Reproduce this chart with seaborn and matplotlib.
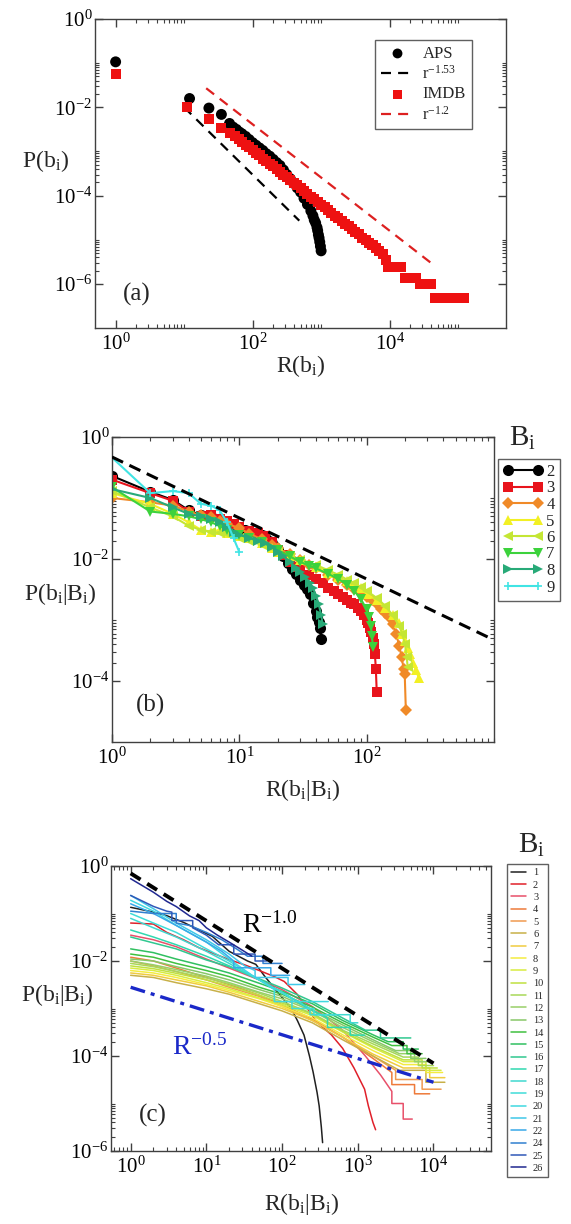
import matplotlib
matplotlib.use("Agg")
import matplotlib.pyplot as plt
import seaborn as sns
from matplotlib.ticker import FixedLocator, FixedFormatter, NullFormatter

# ---------------- panel (a) data ----------------
aps_rank = [1, 12, 23, 35, 46, 52, 58, 64, 70, 79, 89, 100, 112, 126, 141, 158, 178, 200, 224, 251,
            282, 316, 355, 398, 447, 501, 562, 631, 708, 759, 794, 832, 871, 891, 912, 933, 955, 977, 1000]
aps_p = [0.107, 0.0158, 0.0096, 0.0069, 0.0043, 0.00355, 0.00316, 0.00275, 0.00251, 0.00219,
         0.00186, 0.00158, 0.00138, 0.0012, 0.00105, 0.00089, 0.00078, 0.00066, 0.00056, 0.00048,
         0.00038, 0.0003, 0.00024, 0.00019, 0.00015, 0.00012, 8.7e-5, 6.3e-5, 4.5e-5, 3.5e-5,
         2.8e-5, 2.4e-5, 1.9e-5, 1.6e-5, 1.3e-5, 1.1e-5, 8.9e-6, 7.1e-6, 5.6e-6]
imdb_rank = [1, 11, 23, 35, 47, 56, 63, 71, 79, 89, 100, 112, 126, 141, 158, 178, 200, 224, 251, 282,
             316, 355, 398, 447, 501, 562, 631, 708, 794, 891, 1000, 1122, 1259, 1413, 1585, 1778, 1995,
             2239, 2512, 2818, 3162, 3548, 3981, 4467, 5012, 5623, 6310, 7079, 7943, 8710, 9550, 10700,
             12000, 13500, 14800, 17000, 19100, 21400, 24000, 28200, 31600, 35500, 39800, 45700, 52500,
             60300, 69200, 79400, 91200, 104700, 123000]
imdb_p = [0.058, 0.0102, 0.0053, 0.0034, 0.0026, 0.00219, 0.00191, 0.00162, 0.00141, 0.00123,
          0.00107, 0.00093, 0.00081, 0.00069, 0.0006, 0.00052, 0.00046, 0.0004, 0.00035, 0.000295,
          0.000257, 0.000224, 0.000195, 0.00017, 0.000148, 0.000126, 0.00011, 9.5e-5, 8.3e-5, 7.2e-5,
          6.2e-5, 5.4e-5, 4.7e-5, 4.1e-5, 3.5e-5, 3.1e-5, 2.6e-5, 2.3e-5, 2.0e-5, 1.74e-5,
          1.51e-5, 1.32e-5, 1.12e-5, 9.8e-6, 8.5e-6, 7.4e-6, 6.4e-6, 5.6e-6, 4.8e-6, 3.5e-6,
          2.35e-6, 2.35e-6, 2.35e-6, 2.35e-6, 2.35e-6, 1.38e-6, 1.38e-6, 1.38e-6, 1.38e-6,
          1.0e-6, 1.0e-6, 1.0e-6, 1.0e-6, 4.9e-7, 4.9e-7, 4.9e-7, 4.9e-7, 4.9e-7, 4.9e-7, 4.9e-7, 4.9e-7]
fit_aps_r = [10, 480]
fit_aps_p = [1.0e-2, 2.7e-5]
fit_imdb_r = [21, 4.0e4]
fit_imdb_p = [2.7e-2, 3.0e-6]

# ---------------- panel (b) data ----------------
b_labels = ["2", "3", "4", "5", "6", "7", "8", "9"]
b_r2 = [1, 2, 3, 4, 5, 6, 7, 8, 9, 10, 11, 12, 13, 14, 15, 16, 17, 18, 19, 20, 22, 24, 26, 28, 30, 32, 34, 36, 38, 40, 41, 42, 43, 44]
b_p2 = [0.23, 0.126, 0.093, 0.063, 0.052, 0.050, 0.044, 0.041, 0.036, 0.032, 0.030, 0.028, 0.027, 0.026, 0.025, 0.023, 0.020,
        0.018, 0.016, 0.014, 0.011, 0.0085, 0.0068, 0.0056, 0.0046, 0.0038, 0.0032, 0.0027, 0.0019, 0.0014, 0.0011, 0.00093, 0.00074, 0.00049]
b_r3 = [1, 2, 3, 4, 5, 6, 7, 8, 9, 10, 12, 14, 16, 18, 20, 22, 25, 28, 30, 35, 40, 45, 50, 55, 60, 65, 70, 75, 80, 85, 90, 95,
        100, 103, 106, 109, 112, 114, 116, 118, 120]
b_p3 = [0.2, 0.12, 0.09, 0.06, 0.05, 0.052, 0.045, 0.042, 0.038, 0.033, 0.029, 0.027, 0.024, 0.019, 0.014, 0.0115, 0.009, 0.0075,
        0.0068, 0.0055, 0.0047, 0.004, 0.0034, 0.003, 0.0027, 0.0024, 0.0021, 0.0019, 0.0018, 0.0016, 0.0014, 0.0012, 0.001,
        0.00088, 0.00075, 0.00063, 0.0005, 0.0004, 0.00028, 0.00016, 0.000066]
b_r4 = [1, 2, 3, 4, 5, 6, 7, 8, 10, 12, 15, 18, 20, 25, 30, 35, 40, 50, 60, 70, 80, 90, 100, 110, 120, 130, 140, 150, 160, 170,
        180, 188, 195, 199, 203]
b_p4 = [0.1, 0.085, 0.075, 0.06, 0.052, 0.048, 0.042, 0.038, 0.032, 0.026, 0.021, 0.017, 0.015, 0.012, 0.0095, 0.008, 0.007,
        0.0055, 0.0045, 0.0038, 0.0032, 0.0028, 0.0024, 0.0021, 0.0018, 0.0015, 0.0013, 0.0011, 0.00085, 0.0006, 0.00038,
        0.00025, 0.00016, 0.00013, 0.000034]
b_r5 = [1, 2, 3, 4, 5, 6, 7, 8, 10, 12, 15, 18, 20, 25, 30, 40, 50, 60, 70, 80, 90, 100, 120, 140, 160, 180, 190, 200, 210,
        217, 230, 245, 257]
b_p5 = [0.12, 0.08, 0.055, 0.04, 0.03, 0.028, 0.03, 0.027, 0.024, 0.022, 0.018, 0.015, 0.013, 0.011, 0.0095, 0.0075, 0.006,
        0.005, 0.0043, 0.0037, 0.0033, 0.0027, 0.0021, 0.0016, 0.0012, 0.00088, 0.0006, 0.00045, 0.00035, 0.00028, 0.0002,
        0.00015, 0.00011]
b_r6 = [1, 2, 3, 4, 5, 6, 7, 8, 10, 12, 15, 20, 25, 30, 40, 50, 60, 70, 80, 90, 100, 120, 140, 160, 180, 190, 200, 206, 210]
b_p6 = [0.13, 0.07, 0.05, 0.035, 0.03, 0.028, 0.027, 0.026, 0.022, 0.02, 0.017, 0.013, 0.011, 0.0098, 0.008, 0.0065, 0.0055,
        0.0046, 0.004, 0.0035, 0.003, 0.0023, 0.0017, 0.0012, 0.0008, 0.0006, 0.0004, 0.00025, 0.00017]
b_r7 = [1, 2, 3, 4, 5, 6, 7, 8, 10, 12, 15, 20, 25, 30, 35, 40, 50, 60, 70, 80, 90, 100, 105, 108, 110, 112]
b_p7 = [0.15, 0.06, 0.055, 0.05, 0.045, 0.04, 0.035, 0.03, 0.025, 0.022, 0.019, 0.014, 0.011, 0.009, 0.0078, 0.007, 0.0057,
        0.0047, 0.0038, 0.003, 0.0022, 0.0015, 0.0011, 0.0008, 0.00055, 0.00036]
b_r8 = [1, 2, 3, 4, 5, 6, 7, 8, 9, 10, 12, 14, 16, 18, 20, 22, 25, 28, 30, 33, 36, 38, 40, 42, 44, 45]
b_p8 = [0.14, 0.1, 0.07, 0.055, 0.05, 0.045, 0.04, 0.033, 0.028, 0.025, 0.022, 0.02, 0.018, 0.016, 0.013, 0.011, 0.009,
        0.0072, 0.0062, 0.005, 0.004, 0.0033, 0.0025, 0.0018, 0.0012, 0.00085]
b_r9 = [1, 2, 3, 4, 5, 6, 7, 8, 9, 10]
b_p9 = [0.46, 0.12, 0.13, 0.12, 0.08, 0.075, 0.063, 0.04, 0.022, 0.013]
b_fit_r = [1, 1000]
b_fit_p = [0.47, 4.7e-4]

# ---------------- panel (c) data ----------------
c_labels = ["1", "2", "3", "4", "5", "6", "7", "8", "9", "10", "11", "12", "13", "14", "15", "16", "17", "18",
            "19", "20", "21", "22", "24", "25", "26"]
c_r1 = [1, 2, 3, 5, 8, 12, 20, 35, 45, 60, 100, 132, 160, 195, 230, 257, 290, 309, 330, 343]
c_p1 = [0.135, 0.107, 0.09, 0.065, 0.045, 0.033, 0.016, 0.01, 0.0085, 0.0046, 0.0017, 0.001, 0.00055, 0.000275, 0.0001,
        4.6e-5, 1.7e-5, 8.9e-6, 3.2e-6, 1.5e-6]
c_r2 = [1, 2, 3, 5, 8, 13, 20, 32, 50, 79, 107, 158, 288, 447, 631, 891, 1230, 1380, 1585, 1720]
c_p2 = [0.063, 0.06, 0.04, 0.028, 0.019, 0.014, 0.0107, 0.0083, 0.0063, 0.0047, 0.0037, 0.002, 5.2e-4, 2.8e-4, 1.45e-4,
        5.6e-5, 2.0e-5, 8.9e-6, 4.0e-6, 2.8e-6]
c_r3 = [1, 2, 4, 10, 20, 50, 100, 251, 631, 1259, 1995, 2818, 2818, 3981, 3981, 5248]
c_p3 = [3.5e-2, 2.8e-2, 2.0e-2, 1.1e-2, 7.1e-3, 4.0e-3, 2.5e-3, 1.1e-3, 3.5e-4, 1.0e-4, 4.0e-5, 1.8e-5, 1.0e-5, 1.0e-5,
        4.7e-6, 4.7e-6]
c_r4 = [1, 2, 4, 10, 20, 50, 100, 251, 631, 1585, 2818, 2818, 5623, 5623, 8913]
c_p4 = [1.2e-2, 1.0e-2, 7.1e-3, 4.5e-3, 3.2e-3, 1.9e-3, 1.2e-3, 6.0e-4, 2.5e-4, 8.9e-5, 4.5e-5, 2.5e-5, 2.5e-5, 1.6e-5, 1.6e-5]
c_r5 = [1, 2, 4, 10, 20, 50, 100, 251, 631, 1585, 3162, 3162, 7079, 7079, 12590]
c_p5 = [1.0e-2, 7.9e-3, 6.0e-3, 4.0e-3, 2.8e-3, 1.8e-3, 1.1e-3, 5.6e-4, 2.5e-4, 1.0e-4, 5.0e-5, 3.2e-5, 3.2e-5, 2.0e-5, 2.0e-5]
c_r6 = [1, 2, 4, 10, 20, 50, 100, 251, 631, 1585, 3548, 7943, 7943, 14130]
c_p6 = [5.0e-3, 4.5e-3, 3.5e-3, 2.6e-3, 2.0e-3, 1.26e-3, 8.9e-4, 5.0e-4, 2.2e-4, 1.0e-4, 5.0e-5, 5.0e-5, 2.8e-5, 2.8e-5]
c_r7 = [1, 2, 4, 10, 20, 50, 100, 251, 631, 1585, 3981, 8913, 8913, 14130]
c_p7 = [5.6e-3, 5.0e-3, 4.0e-3, 3.0e-3, 2.2e-3, 1.4e-3, 1.0e-3, 5.6e-4, 2.5e-4, 1.1e-4, 5.6e-5, 5.6e-5, 3.5e-5, 3.5e-5]
c_r8 = [1, 2, 4, 10, 20, 50, 100, 251, 631, 1585, 3981, 7943, 7943, 13180]
c_p8 = [6.3e-3, 5.6e-3, 4.5e-3, 3.2e-3, 2.4e-3, 1.6e-3, 1.1e-3, 6.3e-4, 2.8e-4, 1.3e-4, 6.6e-5, 6.6e-5, 4.5e-5, 4.5e-5]
c_r9 = [1, 2, 4, 10, 20, 50, 100, 251, 631, 1585, 3981, 7943, 7943, 12590]
c_p9 = [7.1e-3, 6.3e-3, 5.0e-3, 3.5e-3, 2.6e-3, 1.66e-3, 1.2e-3, 7.1e-4, 3.2e-4, 1.5e-4, 7.6e-5, 7.6e-5, 5.0e-5, 5.0e-5]
c_r10 = [1, 2, 4, 10, 20, 50, 100, 251, 631, 1585, 3981, 7079, 7079, 11220]
c_p10 = [7.9e-3, 6.9e-3, 5.5e-3, 4.0e-3, 3.0e-3, 1.9e-3, 1.3e-3, 7.6e-4, 3.3e-4, 1.6e-4, 8.3e-5, 8.3e-5, 5.6e-5, 5.6e-5]
c_r11 = [1, 2, 4, 10, 20, 50, 100, 251, 631, 1585, 3981, 6310, 6310, 10000]
c_p11 = [8.9e-3, 7.6e-3, 6.0e-3, 4.4e-3, 3.3e-3, 2.1e-3, 1.4e-3, 7.9e-4, 3.5e-4, 1.8e-4, 9.5e-5, 9.5e-5, 6.3e-5, 6.3e-5]
c_r12 = [1, 2, 4, 10, 20, 50, 100, 251, 631, 1585, 3548, 5623, 5623, 9550]
c_p12 = [1.0e-2, 8.3e-3, 6.6e-3, 4.8e-3, 3.5e-3, 2.2e-3, 1.6e-3, 8.9e-4, 4.0e-4, 2.0e-4, 1.12e-4, 1.12e-4, 7.6e-5, 7.6e-5]
c_r13 = [1, 2, 4, 10, 20, 50, 100, 251, 631, 1585, 3162, 5012, 5012, 7943]
c_p13 = [1.1e-2, 1.0e-2, 7.6e-3, 5.4e-3, 4.0e-3, 2.5e-3, 1.8e-3, 9.5e-4, 4.5e-4, 2.2e-4, 1.3e-4, 1.3e-4, 8.9e-5, 8.9e-5]
c_r14 = [1, 2, 4, 10, 20, 50, 100, 251, 631, 1585, 2818, 4467, 4467, 7079]
c_p14 = [1.4e-2, 1.2e-2, 8.9e-3, 6.3e-3, 4.7e-3, 2.8e-3, 2.0e-3, 1.07e-3, 5.0e-4, 2.5e-4, 1.66e-4, 1.66e-4, 1.12e-4, 1.12e-4]
c_r15 = [1, 2, 4, 10, 20, 50, 100, 251, 631, 1585, 2512, 3981, 3981, 6310]
c_p15 = [1.8e-2, 1.5e-2, 1.1e-2, 7.6e-3, 5.6e-3, 3.4e-3, 2.3e-3, 1.26e-3, 5.6e-4, 2.8e-4, 2.0e-4, 2.0e-4, 1.4e-4, 1.4e-4]
c_r16 = [1, 2, 4, 10, 20, 50, 100, 251, 631, 1259, 1995, 1995, 5012]
c_p16 = [3.2e-2, 2.4e-2, 1.8e-2, 1.05e-2, 7.6e-3, 4.2e-3, 2.7e-3, 1.4e-3, 6.3e-4, 3.5e-4, 3.5e-4, 2.4e-4, 2.4e-4]
c_r17 = [1, 2, 4, 10, 20, 50, 100, 200, 398, 398, 794, 794, 1230]
c_p17 = [4.5e-2, 3.2e-2, 2.2e-2, 1.26e-2, 7.9e-3, 4.0e-3, 2.2e-3, 1.1e-3, 6.3e-4, 4.0e-4, 4.0e-4, 2.75e-4, 2.75e-4]
c_r18 = [1, 2, 4, 10, 20, 50, 100, 234, 234, 794, 794, 1000]
c_p18 = [7.9e-2, 5.0e-2, 3.2e-2, 1.6e-2, 8.9e-3, 4.0e-3, 2.2e-3, 1.0e-3, 7.4e-4, 7.4e-4, 5.0e-4, 5.0e-4]
c_r19 = [1, 2, 4, 10, 20, 50, 135, 135, 263, 263, 501]
c_p19 = [0.1, 6.3e-2, 4.0e-2, 1.8e-2, 1.0e-2, 4.0e-3, 1.6e-3, 1.0e-3, 1.0e-3, 7.4e-4, 7.4e-4]
c_r20 = [1, 2, 4, 10, 20, 40, 79, 79, 407]
c_p20 = [0.19, 0.112, 5.6e-2, 2.5e-2, 1.1e-2, 5.0e-3, 2.5e-3, 1.4e-3, 1.4e-3]
c_r21 = [1, 2, 4, 10, 20, 32, 44, 44, 120, 120, 200]
c_p21 = [0.24, 0.126, 6.3e-2, 2.8e-2, 1.4e-2, 7.9e-3, 6.3e-3, 4.5e-3, 4.5e-3, 3.2e-3, 3.2e-3]
c_r22 = [1, 2, 4, 10, 16, 23, 23, 71, 71, 126]
c_p22 = [0.16, 0.1, 5.6e-2, 2.5e-2, 1.6e-2, 1.0e-2, 7.2e-3, 7.2e-3, 5.0e-3, 5.0e-3]
c_r24 = [1, 2, 4, 4, 6, 10, 16, 25, 35, 56, 56, 100]
c_p24 = [0.112, 0.1, 0.1, 6.3e-2, 5.6e-2, 4.0e-2, 2.8e-2, 1.8e-2, 1.26e-2, 1.26e-2, 8.9e-3, 8.9e-3]
c_r25 = [1, 2, 3, 3.5, 3.5, 6.6, 6.6, 10, 14.5, 23, 23, 44, 44, 63]
c_p25 = [0.24, 0.141, 0.112, 0.107, 7.1e-2, 7.1e-2, 5.0e-2, 3.5e-2, 2.2e-2, 2.2e-2, 1.4e-2, 1.4e-2, 1.0e-2, 1.0e-2]
c_r26 = [1, 2, 3, 4, 6, 8, 10, 14, 20, 28, 40]
c_p26 = [0.54, 0.28, 0.18, 0.14, 8.9e-2, 7.1e-2, 5.0e-2, 3.5e-2, 2.5e-2, 1.8e-2, 1.26e-2]
c_fit1_r = [1, 1.0e4]
c_fit1_p = [0.7, 7.0e-5]
c_fit2_r = [1, 1.0e4]
c_fit2_p = [2.8e-3, 2.8e-5]

# ---------------- styling ----------------
sns.set_theme(style="ticks")
plt.rcParams["font.family"] = ["Liberation Serif", "DejaVu Serif"]
plt.rcParams["mathtext.fontset"] = "custom"
plt.rcParams["mathtext.rm"] = "Liberation Serif"
plt.rcParams["mathtext.it"] = "Liberation Serif:italic"
plt.rcParams["mathtext.bf"] = "Liberation Serif:bold"
plt.rcParams["axes.linewidth"] = 1.0
plt.rcParams["axes.edgecolor"] = "#404040"

fig = plt.figure(figsize=(5.71, 12.24), dpi=100)
W, H = 571.0, 1224.0


def axes_px(l, t, r, b):
    return fig.add_axes([l / W, 1 - b / H, (r - l) / W, (b - t) / H])


def lab(e):
    return r"$\mathregular{10^{%d}}$" % e


def decorate(ax, xmaj_exp, ymaj_exp, xmin, ymin):
    ax.set_xscale("log")
    ax.set_yscale("log")
    ax.xaxis.set_major_locator(FixedLocator([10.0 ** e for e in xmaj_exp]))
    ax.xaxis.set_major_formatter(FixedFormatter([lab(e) for e in xmaj_exp]))
    ax.yaxis.set_major_locator(FixedLocator([10.0 ** e for e in ymaj_exp]))
    ax.yaxis.set_major_formatter(FixedFormatter([lab(e) for e in ymaj_exp]))
    ax.xaxis.set_minor_locator(FixedLocator(xmin))
    ax.yaxis.set_minor_locator(FixedLocator(ymin))
    ax.xaxis.set_minor_formatter(NullFormatter())
    ax.yaxis.set_minor_formatter(NullFormatter())
    ax.tick_params(which="both", direction="in", top=True, right=True, colors="#404040",
                   labelcolor="black", labelsize=15)
    ax.tick_params(which="major", length=6, width=1.0)
    ax.tick_params(which="minor", length=3, width=0.8)
    ax.tick_params(axis="x", pad=4)
    ax.tick_params(axis="y", pad=2)
    for s in ax.spines.values():
        s.set_visible(True)


def minors(decs):
    out = []
    for d in decs:
        out += [k * 10.0 ** d for k in range(2, 11)]
    return out


# ---------------- panel (a) ----------------
axa = axes_px(95, 19, 506, 328)
sns.scatterplot(x=aps_rank, y=aps_p, marker="o", s=62, color="black", edgecolor="none", linewidth=0,
                label="APS", ax=axa, zorder=3)
sns.lineplot(x=fit_aps_r, y=fit_aps_p, color="black", lw=1.6, linestyle=(0, (4.5, 3.2)),
             label=r"$\mathregular{r^{-1.53}}$", ax=axa, zorder=2)
sns.scatterplot(x=imdb_rank, y=imdb_p, marker="s", s=52, color="#ee1111", edgecolor="none", linewidth=0,
                label="IMDB", ax=axa, zorder=4)
sns.lineplot(x=fit_imdb_r, y=fit_imdb_p, color="#dd2020", lw=1.6, linestyle=(0, (4.5, 3.2)),
             label=r"$\mathregular{r^{-1.2}}$", ax=axa, zorder=2)
decorate(axa, [0, 2, 4], [0, -2, -4, -6], minors([0, 2, 4]), minors([-2, -4, -6]))
axa.set_xlim(0.5, 5.0e5)
axa.set_ylim(1e-7, 1.0)
h, l = axa.get_legend_handles_labels()
leg = axa.legend(h, l, loc="upper left", bbox_to_anchor=(375 / W, 1 - 40 / H),
                 bbox_transform=fig.transFigure, borderaxespad=0, fontsize=12, frameon=True,
                 fancybox=False, edgecolor="#606060", framealpha=1, handlelength=2.0,
                 handletextpad=0.5, labelspacing=0.2, borderpad=0.35, markerscale=0.9)
leg.get_frame().set_linewidth(1.0)
axa.set_xlabel(r"$\mathregular{R(b_i)}$", fontsize=17)
axa.xaxis.set_label_coords(0.5, -0.08)
axa.set_ylabel(r"$\mathregular{P(b_i)}$", fontsize=17, rotation=0)
axa.yaxis.set_label_coords(-0.12, 0.5)
axa.text(0.102, 0.11, "(a)", transform=axa.transAxes, fontsize=18, ha="center", va="center")

# ---------------- panel (b) ----------------
axb = axes_px(112, 437, 494, 742)
b_series = [(b_r2, b_p2), (b_r3, b_p3), (b_r4, b_p4), (b_r5, b_p5), (b_r6, b_p6), (b_r7, b_p7),
            (b_r8, b_p8), (b_r9, b_p9)]
b_colors = ["#000000", "#e8141c", "#f08a28", "#f2f024", "#c4e634", "#3cd23c", "#28aa78", "#40e4e4"]
b_markers = ["o", "s", "D", "^", "<", "v", ">", "+"]
b_msize = [8, 7, 6, 7.5, 7.5, 7.5, 7.5, 6]
for (rr, pp), col, mk, ms, lb in zip(b_series, b_colors, b_markers, b_msize, b_labels):
    sns.lineplot(x=rr, y=pp, color=col, lw=1.5, marker=mk, markersize=ms, markeredgewidth=1.2 if mk == "+" else 0,
                 markeredgecolor=col, estimator=None, sort=False, label=lb, ax=axb)
sns.lineplot(x=b_fit_r, y=b_fit_p, color="black", lw=2.2, linestyle=(0, (4, 2.3)), ax=axb, zorder=5)
decorate(axb, [0, 1, 2], [0, -2, -4], minors([0, 1, 2]), minors([-2, -4]))
axb.set_xlim(1, 1000)
axb.set_ylim(1e-5, 1.0)
h, l = axb.get_legend_handles_labels()
leg = axb.legend(h[:8], l[:8], loc="upper left", bbox_to_anchor=(498 / W, 1 - 459 / H),
                 bbox_transform=fig.transFigure, borderaxespad=0, fontsize=12, frameon=True,
                 fancybox=False, edgecolor="#606060", framealpha=1, numpoints=2, handlelength=2.4,
                 handletextpad=0.2, labelspacing=0.03, borderpad=0.3)
leg.get_frame().set_linewidth(1.0)
axb.set_xlabel(r"$\mathregular{R(b_i|B_i)}$", fontsize=17)
axb.xaxis.set_label_coords(0.5, -0.115)
axb.set_ylabel(r"$\mathregular{P(b_i|B_i)}$", fontsize=17, rotation=0)
axb.yaxis.set_label_coords(-0.135, 0.443)
axb.text(0.1, 0.121, "(b)", transform=axb.transAxes, fontsize=18, ha="center", va="center")
fig.text(522 / W, 1 - 438 / H, r"$\mathregular{B_i}$", fontsize=21, ha="center", va="center")

# ---------------- panel (c) ----------------
axc = axes_px(111, 866, 491, 1151)
c_series = [(c_r1, c_p1), (c_r2, c_p2), (c_r3, c_p3), (c_r4, c_p4), (c_r5, c_p5), (c_r6, c_p6),
            (c_r7, c_p7), (c_r8, c_p8), (c_r9, c_p9), (c_r10, c_p10), (c_r11, c_p11), (c_r12, c_p12),
            (c_r13, c_p13), (c_r14, c_p14), (c_r15, c_p15), (c_r16, c_p16), (c_r17, c_p17), (c_r18, c_p18),
            (c_r19, c_p19), (c_r20, c_p20), (c_r21, c_p21), (c_r22, c_p22), (c_r24, c_p24), (c_r25, c_p25),
            (c_r26, c_p26)]
c_colors = ["#202020", "#e0202a", "#e8506a", "#ee7a3a", "#f09a50", "#c8b048", "#f0cc40", "#f4ec40",
            "#d8ec40", "#c0e040", "#a8d858", "#98d068", "#88c868", "#40c040", "#30c060", "#30c890",
            "#30d8b0", "#40d8d0", "#40dcd8", "#40d8e0", "#40c8e8", "#38a8e8", "#3080d0", "#3058b8", "#202890"]
for (rr, pp), col, lb in zip(c_series, c_colors, c_labels):
    sns.lineplot(x=rr, y=pp, color=col, lw=1.1, estimator=None, sort=False, label=lb, ax=axc)
sns.lineplot(x=c_fit1_r, y=c_fit1_p, color="black", lw=2.8, linestyle=(0, (3, 2)), ax=axc, zorder=5)
sns.lineplot(x=c_fit2_r, y=c_fit2_p, color="#1a28c8", lw=2.4, linestyle=(0, (4.5, 1.8, 1.2, 1.8)),
             ax=axc, zorder=5)
decorate(axc, [0, 1, 2, 3, 4], [0, -2, -4, -6],
         [k * 0.1 for k in range(6, 10)] + [k * 10.0 ** d for d in range(0, 5) for k in range(2, 10)],
         minors([-2, -4, -6]))
axc.set_xlim(0.55, 5.75e4)
axc.set_ylim(1e-6, 1.0)
h, l = axc.get_legend_handles_labels()
leg = axc.legend(h[:25], l[:25], loc="upper left", bbox_to_anchor=(507 / W, 1 - 864 / H),
                 bbox_transform=fig.transFigure, borderaxespad=0, fontsize=7.5, frameon=True,
                 fancybox=False, edgecolor="#606060", framealpha=1, handlelength=1.4,
                 handletextpad=0.7, labelspacing=0.29, borderpad=0.4)
leg.get_frame().set_linewidth(1.0)
axc.set_xlabel(r"$\mathregular{R(b_i|B_i)}$", fontsize=17)
axc.xaxis.set_label_coords(0.503, -0.14)
axc.set_ylabel(r"$\mathregular{P(b_i|B_i)}$", fontsize=17, rotation=0)
axc.yaxis.set_label_coords(-0.14, 0.5)
axc.text(0.11, 0.123, "(c)", transform=axc.transAxes, fontsize=18, ha="center", va="center")
axc.text(30, 0.04, r"$\mathregular{R^{-1.0}}$", fontsize=20, ha="left", va="baseline", color="black")
axc.text(3.5, 1.05e-4, r"$\mathregular{R^{-0.5}}$", fontsize=20, ha="left", va="baseline", color="#1a28c8")
fig.text(531 / W, 1 - 845 / H, r"$\mathregular{B_i}$", fontsize=21, ha="center", va="center")

fig.savefig("out.png", dpi=100)
